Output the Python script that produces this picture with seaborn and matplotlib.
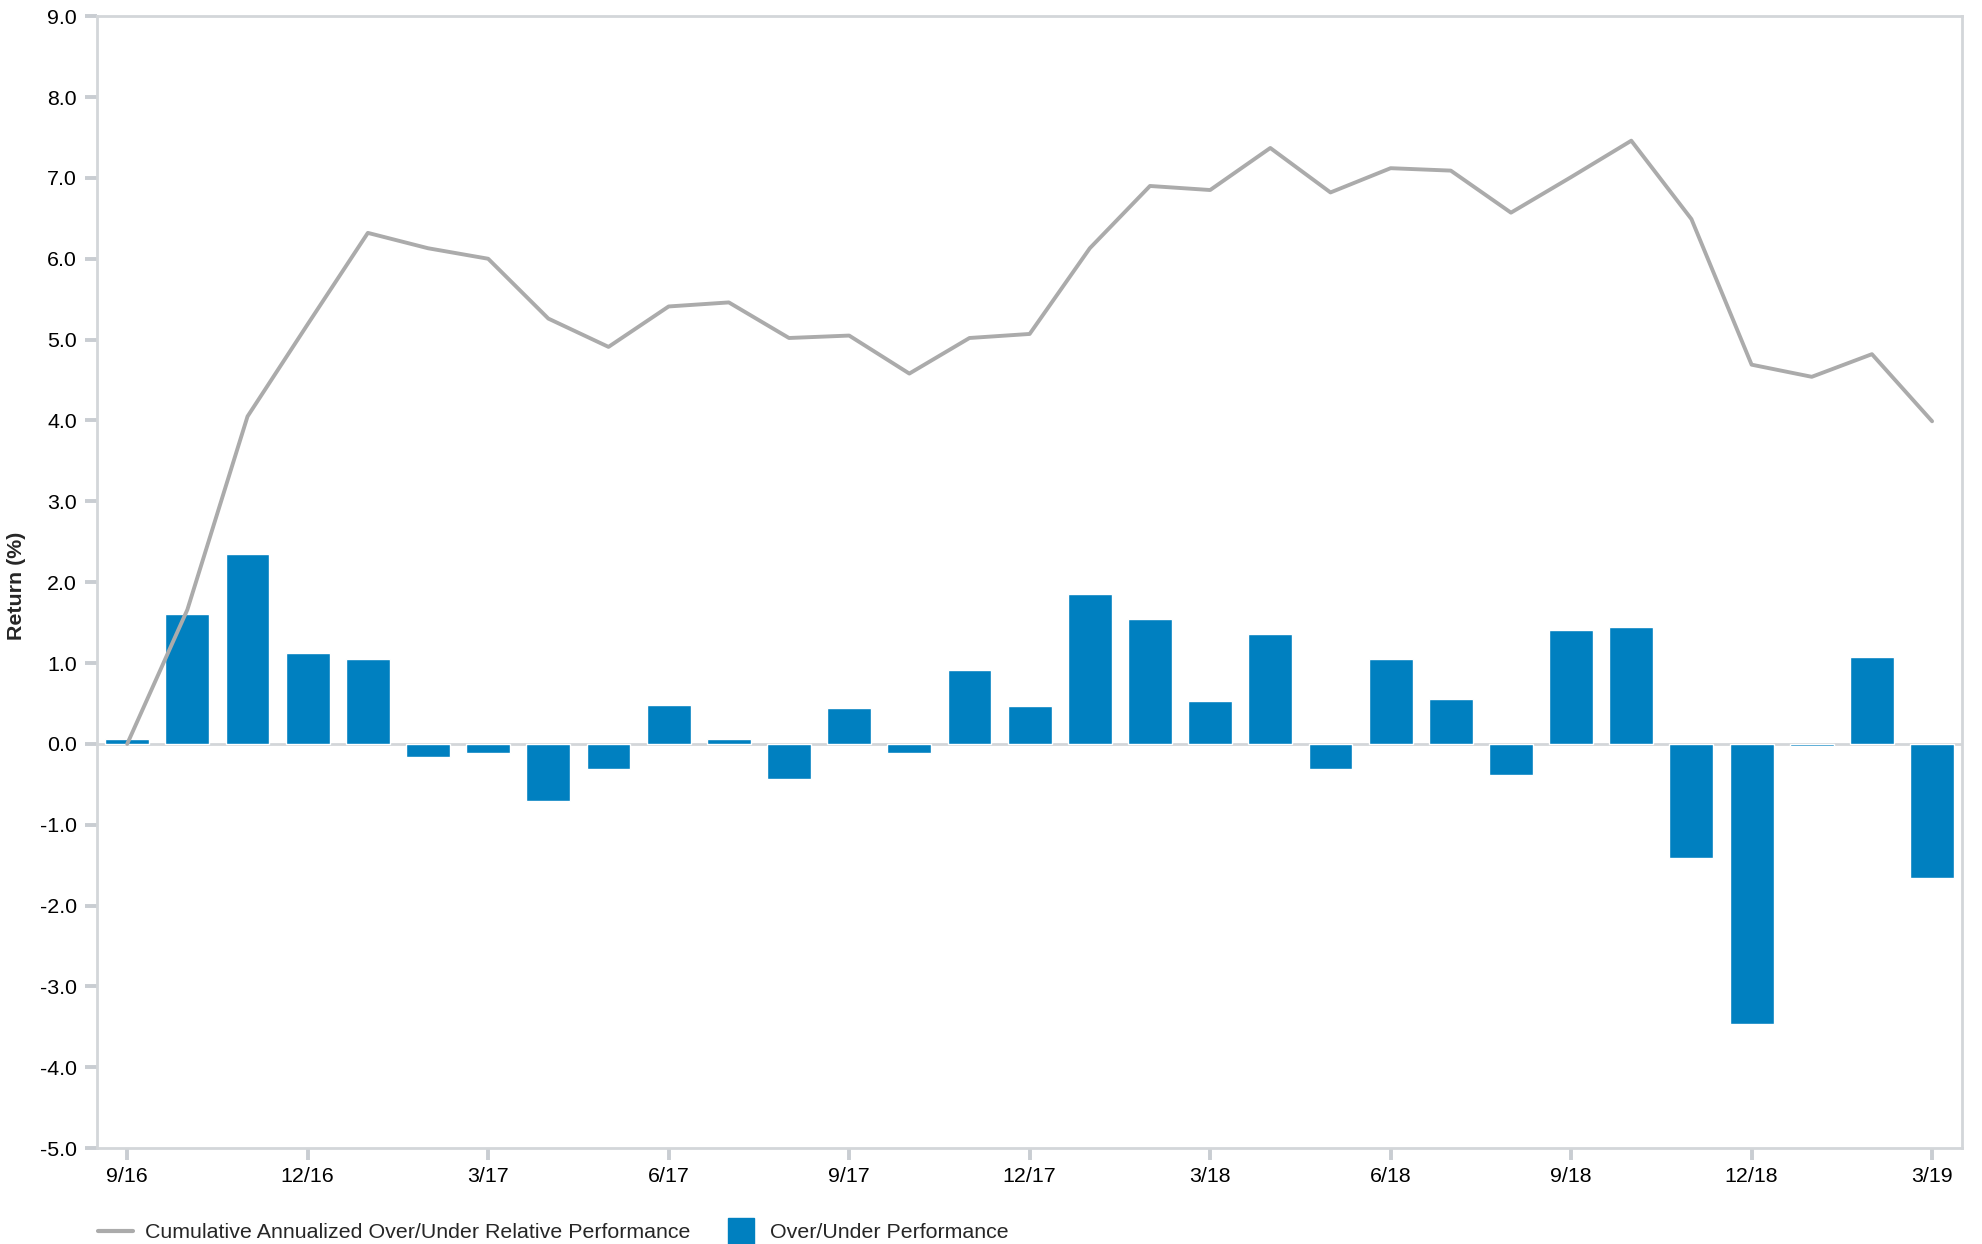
import numpy as np
import pandas as pd
import matplotlib
matplotlib.use("Agg")
import matplotlib.pyplot as plt
import seaborn as sns
from matplotlib.lines import Line2D

months = ["9/16", "10/16", "11/16", "12/16", "1/17", "2/17", "3/17", "4/17", "5/17", "6/17",
          "7/17", "8/17", "9/17", "10/17", "11/17", "12/17", "1/18", "2/18", "3/18", "4/18",
          "5/18", "6/18", "7/18", "8/18", "9/18", "10/18", "11/18", "12/18", "1/19", "2/19", "3/19"]

over_under = [0.06, 1.61, 2.35, 1.13, 1.05, -0.16, -0.11, -0.70, -0.31, 0.48,
              0.06, -0.44, 0.45, -0.11, 0.92, 0.47, 1.86, 1.55, 0.53, 1.36,
              -0.31, 1.05, 0.56, -0.39, 1.41, 1.45, -1.41, -3.46, -0.02, 1.08, -1.66]

cumulative = [0.0, 1.66, 4.05, 5.19, 6.32, 6.13, 6.0, 5.26, 4.91, 5.41,
              5.46, 5.02, 5.05, 4.58, 5.02, 5.07, 6.13, 6.90, 6.85, 7.37,
              6.82, 7.12, 7.09, 6.57, 7.01, 7.46, 6.49, 4.69, 4.54, 4.82, 3.99]

y_ticks = [-5, -4, -3, -2, -1, 0, 1, 2, 3, 4, 5, 6, 7, 8, 9]

line_label = "Cumulative Annualized Over/Under Relative Performance"
bar_label = "Over/Under Performance"
y_label = "Return (%)"

BAR_COLOR = "#0080C0"
LINE_COLOR = "#ABABAB"
AXIS_COLOR = "#D3D6D9"
TICK_COLOR = "#C9CDD2"
FS = 15.4

sns.set_theme(style="white")
plt.rcParams["font.family"] = ["Liberation Sans", "DejaVu Sans"]
plt.rcParams["axes.unicode_minus"] = False

df = pd.DataFrame({"month": months, "pos": np.arange(len(months)),
                   "bar": over_under, "cum": cumulative})

fig = plt.figure(figsize=(19.82, 12.44), dpi=100)
ax = fig.add_axes([0.049, 0.077, 0.941, 0.910])

sns.barplot(data=df, x="month", y="bar", color=BAR_COLOR, saturation=1,
            width=0.73, ax=ax, zorder=2)
ax.axhline(0, color=AXIS_COLOR, lw=2, zorder=1)
sns.lineplot(data=df, x="pos", y="cum", color=LINE_COLOR, lw=2.8, ax=ax,
             zorder=3, sort=False)

ax.set_xlim(-0.5, len(months) - 0.5)
ax.set_ylim(-5, 9)
ax.set_yticks(y_ticks)
ax.set_yticklabels([f"{v:.1f}" for v in y_ticks])
xt = list(range(0, len(months), 3))
ax.set_xticks(xt)
ax.set_xticklabels([months[i] for i in xt])

ax.tick_params(axis="both", which="major", labelsize=FS, labelcolor="black",
               color=TICK_COLOR, length=8.6, width=2.8, direction="out",
               bottom=True, left=True, top=False, right=False)
ax.tick_params(axis="x", pad=5)
ax.tick_params(axis="y", pad=6)
for s in ax.spines.values():
    s.set_color(AXIS_COLOR)
    s.set_linewidth(2)
    s.set_visible(True)

ax.set_xlabel("")
ax.set_ylabel(y_label, fontsize=FS, fontweight="bold")
ax.yaxis.set_label_coords(-0.038, 0.497)

handles = [Line2D([0], [0], color=LINE_COLOR, lw=3),
           Line2D([0], [0], color=BAR_COLOR, marker="s", markersize=18.5, ls="none")]
fig.legend(handles, [line_label, bar_label], loc="center left",
           bbox_to_anchor=(0.0495, 0.009), ncol=2, frameon=False, fontsize=FS,
           borderaxespad=0, borderpad=0,
           handlelength=1.63, handletextpad=0.56, columnspacing=1.55)

fig.savefig("out.png", dpi=100)
